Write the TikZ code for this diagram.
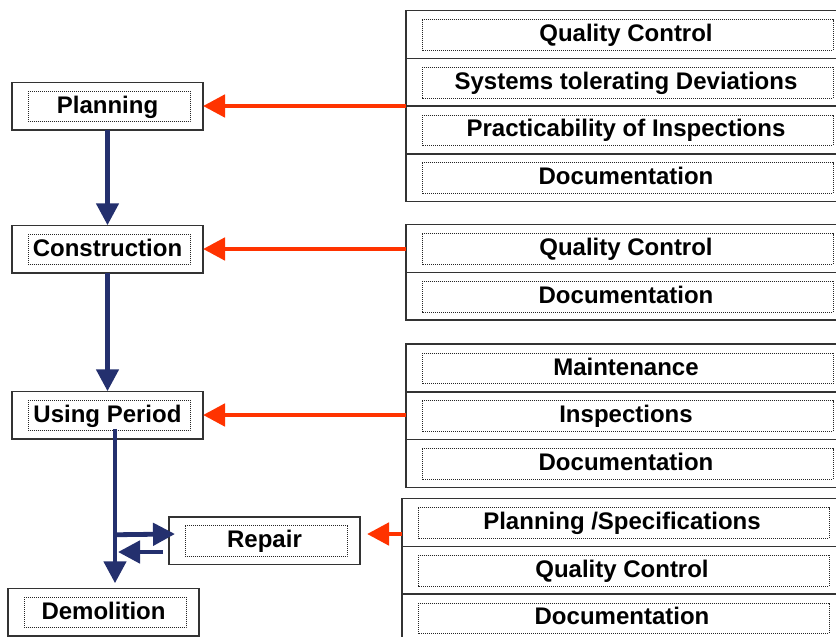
\documentclass[tikz,border=0pt]{standalone}
\usepackage{fontspec}
\setmainfont{Liberation Sans}
\usetikzlibrary{arrows.meta,calc,positioning}
\definecolor{navy}{HTML}{24306E}
\definecolor{signal}{HTML}{FF3300}
\definecolor{frame}{HTML}{333333}
\tikzset{
  inset/.style={path picture={\draw[black!85,line width=1pt,dash pattern=on 1pt off 1pt]
      ($(path picture bounding box.north west)+(16,9)$) rectangle ($(path picture bounding box.south east)+(-13,-8)$);}},
  phase/.style={draw=frame,line width=1.5pt,fill=white,minimum width=191pt,minimum height=47.5pt,
      outer sep=0pt,inset,font=\fontsize{24}{28}\selectfont\bfseries,text height=18pt,text depth=4pt},
  item/.style={phase,minimum width=440pt,minimum height=47.7pt},
  flow/.style={navy,line width=4.8pt,-{Triangle[length=22pt,width=22pt]}},
  feed/.style={signal,line width=4.8pt,-{Triangle[length=22pt,width=22pt]}}
}
\begin{document}
\begin{tikzpicture}[x=1pt,y=-1pt]
  \useasboundingbox (0,0) rectangle (836,637);
  \clip (0,0) rectangle (836,637);
  % life cycle phases
  \node[phase] (plan) at (107.5,106) {Planning};
  \node[phase] (cons) at (107.5,249) {Construction};
  \node[phase] (use) at (107.5,415) {Using Period};
  \node[phase] (rep) at (264.5,540.5) {Repair};
  \node[phase] (demo) at (103.5,612) {Demolition};
  % measures per phase
  \node[item] (g1r1) at (626,34.5) {Quality Control};
  \node[item,below=0pt of g1r1] (g1r2) {Systems tolerating Deviations};
  \node[item,below=0pt of g1r2] (g1r3) {Practicability of Inspections};
  \node[item,below=0pt of g1r3] (g1r4) {Documentation};
  \node[item] (g2r1) at (626,248.5) {Quality Control};
  \node[item,below=0pt of g2r1] (g2r2) {Documentation};
  \node[item] (g3r1) at (626,368) {Maintenance};
  \node[item,below=0pt of g3r1] (g3r2) {Inspections};
  \node[item,below=0pt of g3r2] (g3r3) {Documentation};
  \node[item] (g4r1) at (622,522.5) {Planning /Specifications};
  \node[item,below=0pt of g4r1] (g4r2) {Quality Control};
  \node[item,below=0pt of g4r2] (g4r3) {Documentation};
  % connectors
  \foreach \u/\v in {plan/cons,cons/use}{\draw[flow] (\u) -- (\v);}
  \foreach \p/\g in {plan/g1r1,cons/g2r1,use/g3r1}{\draw[feed] (\p.east -| \g.west) -- (\p.east);}
  \coordinate (repin) at ($(rep.east)+(7,-6.5)$);
  \draw[feed] (repin -| g4r1.west) -- (repin);
  \coordinate (fork) at ($(use.south)+(7.5,96)$);
  \coordinate (back) at (118,552);
  \draw[flow] ($(use.south)+(7.5,-10)$) -- ($(demo.north)+(11.5,-5)$);
  \draw[flow] (fork) -- ($(rep.west)+(6,-6.5)$);
  \draw[flow] ($(rep.west)+(-6,11.5)$) -- (back);
\end{tikzpicture}
\end{document}
